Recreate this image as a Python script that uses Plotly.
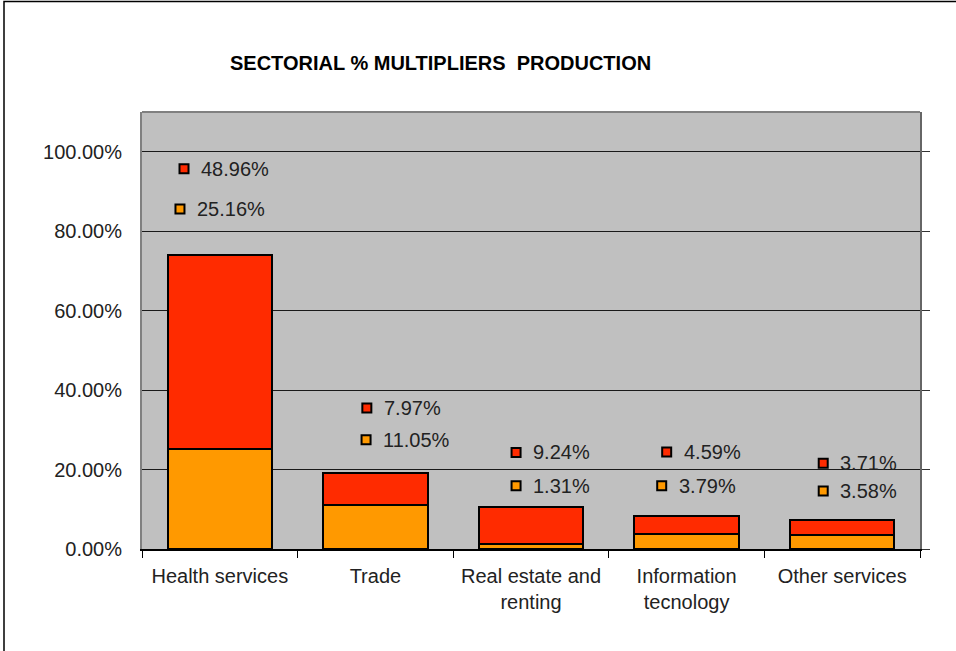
import plotly.graph_objects as go

# ---- data -------------------------------------------------------------
sectors = ["Health services", "Trade", "Real estate and<br>renting",
           "Information<br>tecnology", "Other services"]
lower_share = [25.16, 11.05, 1.31, 3.79, 3.58]   # orange (bottom) series, %
upper_share = [48.96, 7.97, 9.24, 4.59, 3.71]    # red (top) series, %
y_tick_values = [0, 20, 40, 60, 80, 100]
y_tick_labels = [f"{v:.2f}%" for v in y_tick_values]

# ---- styling / label placement ----------------------------------------
RED = "#FF2B00"
ORANGE = "#FF9900"
PLOT_BG = "#C0C0C0"
FONT = "Liberation Sans, Arial, sans-serif"
TEXT = "#222222"

# where each data label sits (x offset from category centre, y in axis units)
upper_label_dx = [-0.23, -0.055, -0.096, -0.128, -0.122]
lower_label_dx = [-0.256, -0.06, -0.096, -0.16, -0.122]
upper_label_y = [95.7, 35.5, 24.3, 24.4, 21.6]
lower_label_y = [85.6, 27.5, 15.9, 15.9, 14.6]

xs = list(range(len(sectors)))

# plot-area geometry in pixels
L, R, T, B = 142, 36, 112, 102
PW, PH = 956 - L - R, 651 - T - B

fig = go.Figure()
fig.add_trace(go.Bar(x=xs, y=lower_share, marker=dict(color=ORANGE, line=dict(color="black", width=2)),
                     width=0.67, showlegend=False, hoverinfo="skip"))
fig.add_trace(go.Bar(x=xs, y=upper_share, marker=dict(color=RED, line=dict(color="black", width=2)),
                     width=0.67, showlegend=False, hoverinfo="skip"))

# legend-key squares beside each value label
for dx, ly, color in ((upper_label_dx, upper_label_y, RED), (lower_label_dx, lower_label_y, ORANGE)):
    fig.add_trace(go.Scatter(
        x=[i + d for i, d in zip(xs, dx)], y=ly, mode="markers",
        marker=dict(symbol="square", size=9, color=color, line=dict(color="black", width=2)),
        showlegend=False, hoverinfo="skip", cliponaxis=False))

annotations = []
for vals, dx, ly in ((upper_share, upper_label_dx, upper_label_y), (lower_share, lower_label_dx, lower_label_y)):
    for i, v in enumerate(vals):
        annotations.append(dict(
            x=i + dx[i], y=ly[i], xref="x", yref="y", text=f"{v:.2f}%",
            showarrow=False, xanchor="left", yanchor="middle", xshift=15,
            font=dict(family=FONT, size=20, color=TEXT)))

# chart title
annotations.append(dict(
    x=(440 - L) / PW, y=(651 - 63 - B) / PH, xref="paper", yref="paper",
    xanchor="center", yanchor="middle",
    text="<b>SECTORIAL % MULTIPLIERS  PRODUCTION</b>",
    showarrow=False, font=dict(family=FONT, size=20, color="black")))

# invisible trace so the right-hand tick axis is drawn
fig.add_trace(go.Scatter(x=[0], y=[0], yaxis="y2", mode="markers", marker=dict(opacity=0),
                         showlegend=False, hoverinfo="skip"))

fig.update_layout(
    width=956, height=651,
    margin=dict(l=L, r=R, t=T, b=B),
    paper_bgcolor="white", plot_bgcolor=PLOT_BG,
    barmode="stack",
    font=dict(family=FONT, size=19, color=TEXT),
    annotations=annotations,
    xaxis=dict(
        range=[-0.5, 4.5], tickmode="array", tickvals=xs, ticktext=sectors,
        ticks="", ticklabelstandoff=8, showgrid=False, zeroline=False,
        showline=True, linecolor="black", linewidth=2,
        tickfont=dict(family=FONT, size=20, color=TEXT),
        minor=dict(tickmode="array", tickvals=[x - 0.5 for x in range(len(sectors) + 1)],
                   ticks="outside", ticklen=7, tickcolor="black", tickwidth=1, showgrid=False),
    ),
    yaxis=dict(
        range=[0, 110], tickmode="array", tickvals=y_tick_values, ticktext=y_tick_labels,
        ticks="", ticklabelstandoff=14,
        showgrid=True, gridcolor="#1a1a1a", gridwidth=1, zeroline=False,
        showline=True, linecolor="#808080", linewidth=2,
        tickfont=dict(family=FONT, size=20, color=TEXT),
    ),
    yaxis2=dict(
        range=[0, 110], overlaying="y", side="right", tickmode="array", tickvals=y_tick_values,
        ticks="outside", ticklen=8, tickcolor="#333333", tickwidth=1, showticklabels=False,
        showgrid=False, zeroline=False, showline=True, linecolor="#666666", linewidth=2,
    ),
    shapes=[
        # plot frame top edge
        dict(type="line", xref="paper", yref="paper", x0=0, x1=1, y0=1, y1=1,
             line=dict(color="#808080", width=2), layer="above"),
        # outer chart frame
        dict(type="rect", xref="paper", yref="paper",
             x0=(4 - L) / PW, x1=(1000 - L) / PW, y0=(651 - 700 - B) / PH, y1=(651 - 1.5 - B) / PH,
             line=dict(color="black", width=1.5), fillcolor="rgba(0,0,0,0)", layer="above"),
    ],
)

fig.write_html("out.html")
